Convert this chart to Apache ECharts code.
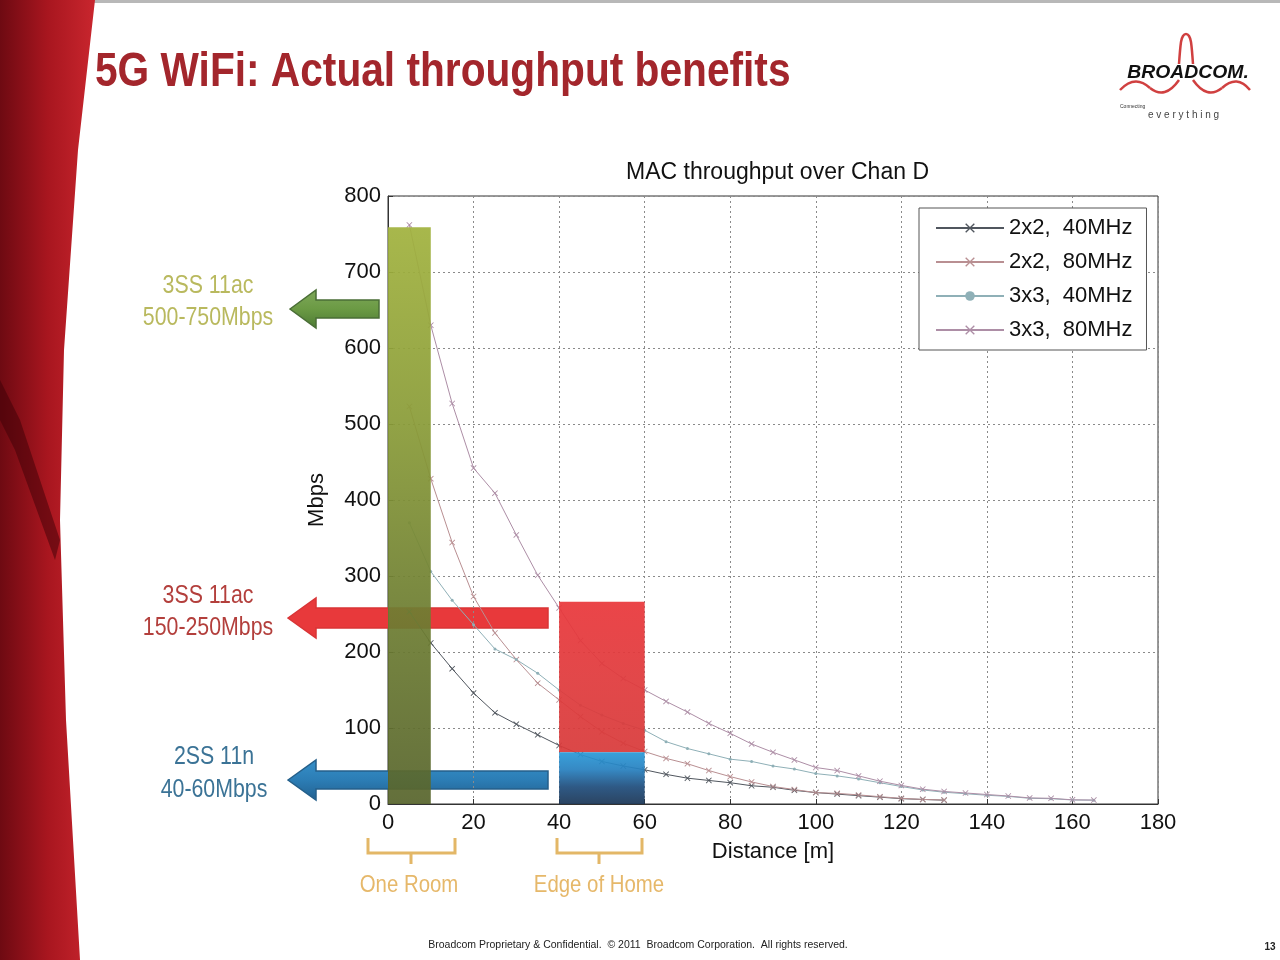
<!DOCTYPE html>
<html><head><meta charset="utf-8">
<script src="https://cdn.jsdelivr.net/npm/echarts@6/dist/echarts.min.js"></script>
<style>html,body{margin:0;padding:0;background:#fff}#c{width:1280px;height:960px}</style>
</head><body><div id="c"></div>
<script>
// ---------- data ----------
const distance = [5,10,15,20,25,30,35,40,45,50,55,60,65,70,75,80,85,90,95,100,105,110,115,120,125,130,135,140,145,150,155,160,165];
const tput2x2_40 = [253,212,178,146,120,105,91,77,65,56,50,45,39,34,31,28,24,22,18,15,13,11,9,7,6,5];
const tput2x2_80 = [523,428,344,273,225,190,159,137,115,95,80,69,60,53,44,36,29,23,19,15,14,12,9.6,7.5,6,5.3];
const tput3x3_40 = [370,306,268,236,204,190,172,150,130,117,106,97,82,73,66,59,56,50,46,40,37,33,28,23,18.5,15.5,13.5,11.5,10,7.5,7,5.3,5];
const tput3x3_80 = [762,630,527,442,409,354,301,258,215,185,165,150,135,121,106,93,79,68,58,48,44,37,30,24.5,19.5,16.5,14.5,12.5,10.5,8,7.5,5.5,5.2];
const seriesNames = ['2x2,  40MHz','2x2,  80MHz','3x3,  40MHz','3x3,  80MHz'];
const xTicks = [0,20,40,60,80,100,120,140,160,180];
const yTicks = [0,100,200,300,400,500,600,700,800];
// highlighted zones: [x0, x1, y0, y1]
const zoneRoom = [0,10,0,759];
const zoneEdge11ac = [40,60,68,266];
const zoneEdge11n = [40,60,0,68];

const pairs = (ys) => ys.map((y,i)=>[distance[i], y]);
const xSym = 'path://M0,1L1,0L5,4L9,0L10,1L6,5L10,9L9,10L5,6L1,10L0,9L4,5Z';
const LG = (stops)=>new echarts.graphic.LinearGradient(0,0,0,1,stops.map((c,i)=>({offset:i/(stops.length-1),color:c})));

const chart = echarts.init(document.getElementById('c'));
const sans = "'Liberation Sans',Arial,sans-serif";

function arrow(tip, tail, cy, sh, hh, hl, fill, stroke){
  return {type:'polygon', z:0, shape:{points:[[tip,cy],[tip+hl,cy-hh],[tip+hl,cy-sh],[tail,cy-sh],[tail,cy+sh],[tip+hl,cy+sh],[tip+hl,cy+hh]]},
    style:{fill:fill, stroke:stroke, lineWidth:1.5}};
}
function bracket(x0,x1,yTop,yBar){
  return {type:'polyline', z:0, shape:{points:[[x0,yTop],[x0,yBar],[x1,yBar],[x1,yTop]]}, style:{stroke:'#e3b767',lineWidth:3,fill:null}};
}
function stem(xm,y0,y1){return {type:'line', z:0, shape:{x1:xm,y1:y0,x2:xm,y2:y1}, style:{stroke:'#e3b767',lineWidth:3}};}
function txt(x,y,t,size,color,weight,align,sx,fstyle){
  return {type:'text', z:5, x:x, y:y, scaleX:sx||1, style:{text:t, fontSize:size, fill:color, fontFamily:sans, fontWeight:weight||'normal', fontStyle:fstyle||'normal', align:align||'center', verticalAlign:'middle'}};
}
function bez(x1,y1,cx,cy,x2,y2){return {type:'bezierCurve', z:0, shape:{x1:x1,y1:y1,cpx1:cx,cpy1:cy,x2:x2,y2:y2}, style:{stroke:'#d04040',lineWidth:2.5,fill:null}};}

const lineColors = ['#50565e','#b98f92','#8fb0b7','#ad8ea6'];
const lineData = [tput2x2_40, tput2x2_80, tput3x3_40, tput3x3_80];
const lineSeries = lineData.map((d,i)=>({
  name: seriesNames[i], type:'line', data: pairs(d), z:3,
  symbol: i===2 ? 'circle' : xSym, symbolSize: i===2 ? 3 : 6,
  lineStyle:{color:lineColors[i], width:1},
  itemStyle:{color:lineColors[i]},
  emphasis:{disabled:true}
}));

const zoneFills = [
  LG(['#a1b23e','#8a9c38','#6e7e32','#58652d']),
  LG(['#e9373b','#e03a3c','#d83a3a']),
  LG(['#2a9ad8','#2780bf','#1f4d7c','#1b3656'])
];
const zoneSeries = {
  type:'custom', z:4, silent:true,
  data:[zoneRoom, zoneEdge11ac, zoneEdge11n],
  encode:{x:[0,1], y:[2,3]},
  renderItem:(params, api)=>{
    const p0 = api.coord([api.value(0), api.value(3)]);
    const p1 = api.coord([api.value(1), api.value(2)]);
    return {type:'rect', shape:{x:p0[0], y:p0[1], width:p1[0]-p0[0], height:p1[1]-p0[1]},
      style:{fill: zoneFills[params.dataIndex], opacity:0.93}};
  }
};

chart.setOption({
  animation:false,
  backgroundColor:'#ffffff',
  title:{text:'MAC throughput over Chan D', left:621, top:156,
    textStyle:{fontSize:23, fontWeight:'normal', color:'#111', fontFamily:sans}},
  legend:{data:seriesNames, orient:'vertical', left:919, top:208,
    padding:[8,14,8,16], itemWidth:68, itemHeight:12, itemGap:10,
    backgroundColor:'#fff', borderColor:'#555', borderWidth:1,
    textStyle:{fontSize:22, lineHeight:24, color:'#111', fontFamily:sans}},
  grid:{left:388, right:122, top:196, bottom:156, show:true, borderColor:'#333', borderWidth:1, backgroundColor:'transparent'},
  xAxis:{type:'value', min:xTicks[0], max:xTicks[xTicks.length-1], interval:20,
    name:'Distance [m]', nameLocation:'middle', nameGap:37,
    nameTextStyle:{fontSize:22, color:'#111', fontFamily:sans},
    axisLine:{show:true, lineStyle:{color:'#333'}},
    axisTick:{show:true, inside:true, length:5, lineStyle:{color:'#333'}},
    axisLabel:{fontSize:22, color:'#111', margin:8, fontFamily:sans},
    splitLine:{show:true, lineStyle:{color:'#8a8a8a', type:[2,3], width:1}}},
  yAxis:{type:'value', min:yTicks[0], max:yTicks[yTicks.length-1], interval:100,
    name:'Mbps', nameLocation:'middle', nameGap:60, nameRotate:90,
    nameTextStyle:{fontSize:22, color:'#111', fontFamily:sans},
    axisLine:{show:true, lineStyle:{color:'#333'}},
    axisTick:{show:true, inside:true, length:5, lineStyle:{color:'#333'}},
    axisLabel:{fontSize:22, color:'#111', margin:7, fontFamily:sans},
    splitLine:{show:true, lineStyle:{color:'#8a8a8a', type:[2,3], width:1}}},
  series:[...lineSeries, zoneSeries],
  graphic:[
    {type:'rect', z:0, shape:{x:0,y:0,width:1280,height:3}, style:{fill:'#b8b8b8'}},
    {type:'polygon', z:0, shape:{points:[[0,0],[95,0],[78,150],[64,350],[60,520],[66,720],[80,960],[0,960]]},
      style:{fill:new echarts.graphic.LinearGradient(0,0,1,0,[{offset:0,color:'#6e0a12'},{offset:0.5,color:'#a8161f'},{offset:1,color:'#c9262e'}])}},
    {type:'polygon', z:0, shape:{points:[[0,380],[20,420],[60,540],[55,560],[15,450],[0,420]]}, style:{fill:'rgba(60,0,5,0.5)'}},
    txt(95,72,'5G WiFi: Actual throughput benefits',49,'#a3262c','bold','left',0.83),
    // logo
    {type:'polyline', z:0, shape:{points:[[1179,64],[1181,42],[1183,36],[1186,34],[1189,36],[1191,42],[1193,64]], smooth:0.3}, style:{stroke:'#d04040',lineWidth:2.5,fill:null}},
    bez(1120,90,1135,74,1150,88), bez(1150,88,1165,100,1179,80),
    bez(1193,80,1207,100,1222,88), bez(1222,88,1237,74,1250,90),
    txt(1188,73,'BROADCOM.',19,'#111','900','center',1.02,'italic'),
    txt(1120,107,'Connecting',5,'#333','normal','left'),
    txt(1148,115,'e v e r y t h i n g',10,'#444','normal','left'),
    // arrows
    arrow(290,379,309,9,19,26, new echarts.graphic.LinearGradient(0,0,0,1,[{offset:0,color:'#7fa85a'},{offset:0.5,color:'#6b9a44'},{offset:1,color:'#4d7a34'}]), '#4a6e36'),
    arrow(288,548,618,10,20,28, '#e8393b', '#d93436'),
    arrow(288,548,780,9,20,28, new echarts.graphic.LinearGradient(0,0,0,1,[{offset:0,color:'#3590c9'},{offset:0.5,color:'#2c7db5'},{offset:1,color:'#22608f'}]), '#245f8a'),
    // left labels
    txt(208,286,'3SS 11ac',26,'#b9b95e','normal','center',0.82),
    txt(208,318,'500-750Mbps',26,'#b9b95e','normal','center',0.82),
    txt(208,596,'3SS 11ac',26,'#b33f3c','normal','center',0.82),
    txt(208,628,'150-250Mbps',26,'#b33f3c','normal','center',0.82),
    txt(214,757,'2SS 11n',26,'#3b7396','normal','center',0.82),
    txt(214,790,'40-60Mbps',26,'#3b7396','normal','center',0.82),
    // brackets
    bracket(368,455,838,853), stem(411,853,864),
    bracket(557,642,838,853), stem(599,853,864),
    txt(409,885,'One Room',24,'#e6b86a','normal','center',0.85),
    txt(599,885,'Edge of Home',24,'#e6b86a','normal','center',0.85),
    // footer
    txt(638,945,'Broadcom Proprietary & Confidential.  \u00a9 2011  Broadcom Corporation.  All rights reserved.',10.5,'#222'),
    txt(1270,947,'13',10,'#222','bold')
  ]
});
</script></body></html>
